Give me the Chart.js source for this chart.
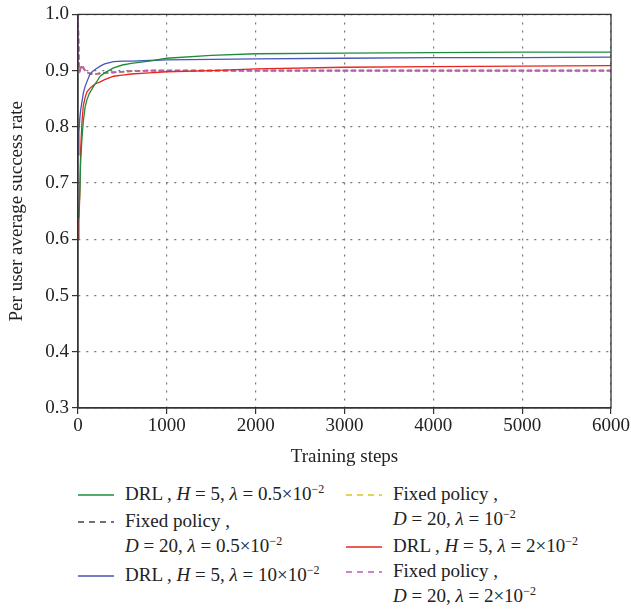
<!DOCTYPE html>
<html>
<head>
<meta charset="utf-8">
<script src="https://cdn.jsdelivr.net/npm/chart.js@4/dist/chart.umd.min.js"></script>
<style>
  html, body { margin: 0; padding: 0; background: #fff; }
  #wrap { position: relative; width: 631px; height: 611px; font-family: "Liberation Serif", "DejaVu Serif", serif; color: #222; }
  #c { position: absolute; left: 0; top: 0; }
  .lg { position: absolute; font-size: 19px; line-height: 25px; white-space: nowrap; }
  .lg svg { position: absolute; }
  i { font-style: italic; }
  sup { font-size: 12px; vertical-align: 7px; line-height: 0; }
</style>
</head>
<body>
<div id="wrap">
  <canvas id="c" width="631" height="470"></canvas>
</div>
<script>
// ---------- data ----------
const steps = [0, 10, 20, 30, 45, 60, 80, 100, 130, 160, 200, 250, 300, 400, 500, 600, 800, 1000, 1500, 2000, 3000, 4000, 5000, 6000];
const drlLow  = [0.64, 0.65, 0.68, 0.74, 0.78, 0.81, 0.835, 0.848, 0.86, 0.868, 0.878, 0.89, 0.896, 0.905, 0.91, 0.913, 0.917, 0.922, 0.927, 0.93, 0.931, 0.932, 0.933, 0.933];
const drlHigh = [0.75, 0.79, 0.815, 0.83, 0.845, 0.86, 0.872, 0.88, 0.892, 0.898, 0.903, 0.908, 0.912, 0.916, 0.917, 0.917, 0.918, 0.919, 0.92, 0.921, 0.922, 0.923, 0.923, 0.924];
const drlMid  = [0.60, 0.63, 0.68, 0.76, 0.81, 0.838, 0.852, 0.862, 0.868, 0.872, 0.877, 0.88, 0.884, 0.89, 0.892, 0.894, 0.896, 0.898, 0.9, 0.903, 0.906, 0.907, 0.908, 0.909];
const fixedLow = [1.0, 0.905, 0.9, 0.905, 0.91, 0.905, 0.9, 0.897, 0.895, 0.894, 0.894, 0.895, 0.896, 0.897, 0.898, 0.899, 0.9, 0.9, 0.9, 0.9, 0.9, 0.9, 0.9, 0.9];
const fixedMid = [1.0, 0.905, 0.9, 0.905, 0.91, 0.905, 0.9, 0.897, 0.895, 0.894, 0.894, 0.895, 0.896, 0.897, 0.898, 0.899, 0.9, 0.9, 0.9, 0.9, 0.9, 0.9, 0.9, 0.9];
const fixedHigh = [1.0, 0.905, 0.9, 0.905, 0.91, 0.905, 0.9, 0.897, 0.895, 0.894, 0.894, 0.895, 0.896, 0.897, 0.898, 0.899, 0.9, 0.9, 0.9, 0.9, 0.9, 0.9, 0.9, 0.9];
const xTicks = [0, 1000, 2000, 3000, 4000, 5000, 6000];
const yTicks = [0.3, 0.4, 0.5, 0.6, 0.7, 0.8, 0.9, 1.0];

const pts = vals => steps.map((s, i) => ({ x: s, y: vals[i] }));

const C = {
  green: '#1e8c3c', black: '#444444', blue: '#4a55b8', yellow: '#d6c81e', red: '#e8261c', magenta: '#c058c0'
};

function ds(label, vals, color, dashed, order) {
  return {
    label, data: pts(vals), borderColor: color, backgroundColor: color,
    borderWidth: dashed ? 1.7 : 1.3, borderDash: dashed ? [5, 3] : [],
    pointRadius: 0, tension: 0, fill: false, order
  };
}

const FONT = "'Liberation Serif', 'DejaVu Serif', serif";

const boxPlugin = {
  id: 'box',
  afterDraw(chart) {
    const { ctx, chartArea: a } = chart;
    ctx.save();
    ctx.strokeStyle = '#333';
    ctx.lineWidth = 1.3;
    ctx.setLineDash([]);
    ctx.strokeRect(a.left, a.top, a.right - a.left, a.bottom - a.top);
    ctx.restore();
  }
};

new Chart(document.getElementById('c'), {
  type: 'line',
  data: {
    datasets: [
      ds('DRL, H = 5, λ = 0.5×10⁻²', drlLow, C.green, false, 0),
      ds('DRL, H = 5, λ = 10×10⁻²', drlHigh, C.blue, false, 0),
      ds('DRL, H = 5, λ = 2×10⁻²', drlMid, C.red, false, 0),
      ds('Fixed policy, D = 20, λ = 0.5×10⁻²', fixedLow, C.black, true, 3),
      ds('Fixed policy, D = 20, λ = 10⁻²', fixedMid, C.yellow, true, 2),
      ds('Fixed policy, D = 20, λ = 2×10⁻²', fixedHigh, C.magenta, true, 1)
    ]
  },
  options: {
    responsive: false,
    animation: false,
    layout: { padding: { top: 9, right: 17, left: 0, bottom: 0 } },
    plugins: { legend: { display: false }, tooltip: { enabled: false } },
    scales: {
      x: {
        type: 'linear', min: 0, max: 6000,
        afterBuildTicks: s => { s.ticks = xTicks.map(v => ({ value: v })); },
        afterFit: s => { s.height = 62; },
        ticks: { color: '#222', font: { family: FONT, size: 19 }, padding: 1, maxRotation: 0,
                 callback: v => String(v) },
        grid: { color: '#777', lineWidth: 1.2, drawTicks: true, tickLength: 6, tickColor: '#333', tickBorderDash: [], tickWidth: 1.2 },
        border: { display: true, color: '#333', width: 1.3, dash: [2, 6] },
        title: { display: true, text: 'Training steps', color: '#222', font: { family: FONT, size: 19 }, padding: { top: 0, bottom: 2 } }
      },
      y: {
        type: 'linear', min: 0.3, max: 1.0,
        afterBuildTicks: s => { s.ticks = yTicks.map(v => ({ value: v })); },
        afterFit: s => { s.width = 78; },
        ticks: { color: '#222', font: { family: FONT, size: 19 }, padding: 3,
                 callback: v => Number(v).toFixed(1) },
        grid: { color: '#777', lineWidth: 1.2, drawTicks: true, tickLength: 6, tickColor: '#333', tickBorderDash: [], tickWidth: 1.2 },
        border: { display: true, color: '#333', width: 1.3, dash: [2, 6] },
        title: { display: true, text: 'Per user average success rate', color: '#222', font: { family: FONT, size: 19 }, padding: { top: 6, bottom: 0 } }
      }
    }
  },
  plugins: [boxPlugin]
});

// ---------- HTML legend ----------
const legendItems = [
  { color: C.green,   dashed: false, x: 78,  y: 481, html: 'DRL , <i>H</i> = 5, <i>λ</i> = 0.5×10<sup>−2</sup>' },
  { color: C.black,   dashed: true,  x: 78,  y: 508, html: 'Fixed policy ,<br><i>D</i> = 20, <i>λ</i> = 0.5×10<sup>−2</sup>' },
  { color: C.blue,    dashed: false, x: 78,  y: 562, html: 'DRL , <i>H</i> = 5, <i>λ</i> = 10×10<sup>−2</sup>' },
  { color: C.yellow,  dashed: true,  x: 346, y: 481, html: 'Fixed policy ,<br><i>D</i> = 20, <i>λ</i> = 10<sup>−2</sup>' },
  { color: C.red,     dashed: false, x: 346, y: 533, html: 'DRL , <i>H</i> = 5, <i>λ</i> = 2×10<sup>−2</sup>' },
  { color: C.magenta, dashed: true,  x: 346, y: 558, html: 'Fixed policy ,<br><i>D</i> = 20, <i>λ</i> = 2×10<sup>−2</sup>' }
];
const wrap = document.getElementById('wrap');
legendItems.forEach(it => {
  const d = document.createElement('div');
  d.className = 'lg';
  d.style.left = it.x + 'px';
  d.style.top = it.y + 'px';
  d.innerHTML =
    `<svg width="36" height="4" style="left:0;top:12px"><line x1="0" y1="2" x2="36" y2="2" stroke="${it.color}" stroke-width="1.5" ${it.dashed ? 'stroke-dasharray="6,5"' : ''}/></svg>` +
    `<div style="margin-left:47px">${it.html}</div>`;
  wrap.appendChild(d);
});
</script>
</body>
</html>
